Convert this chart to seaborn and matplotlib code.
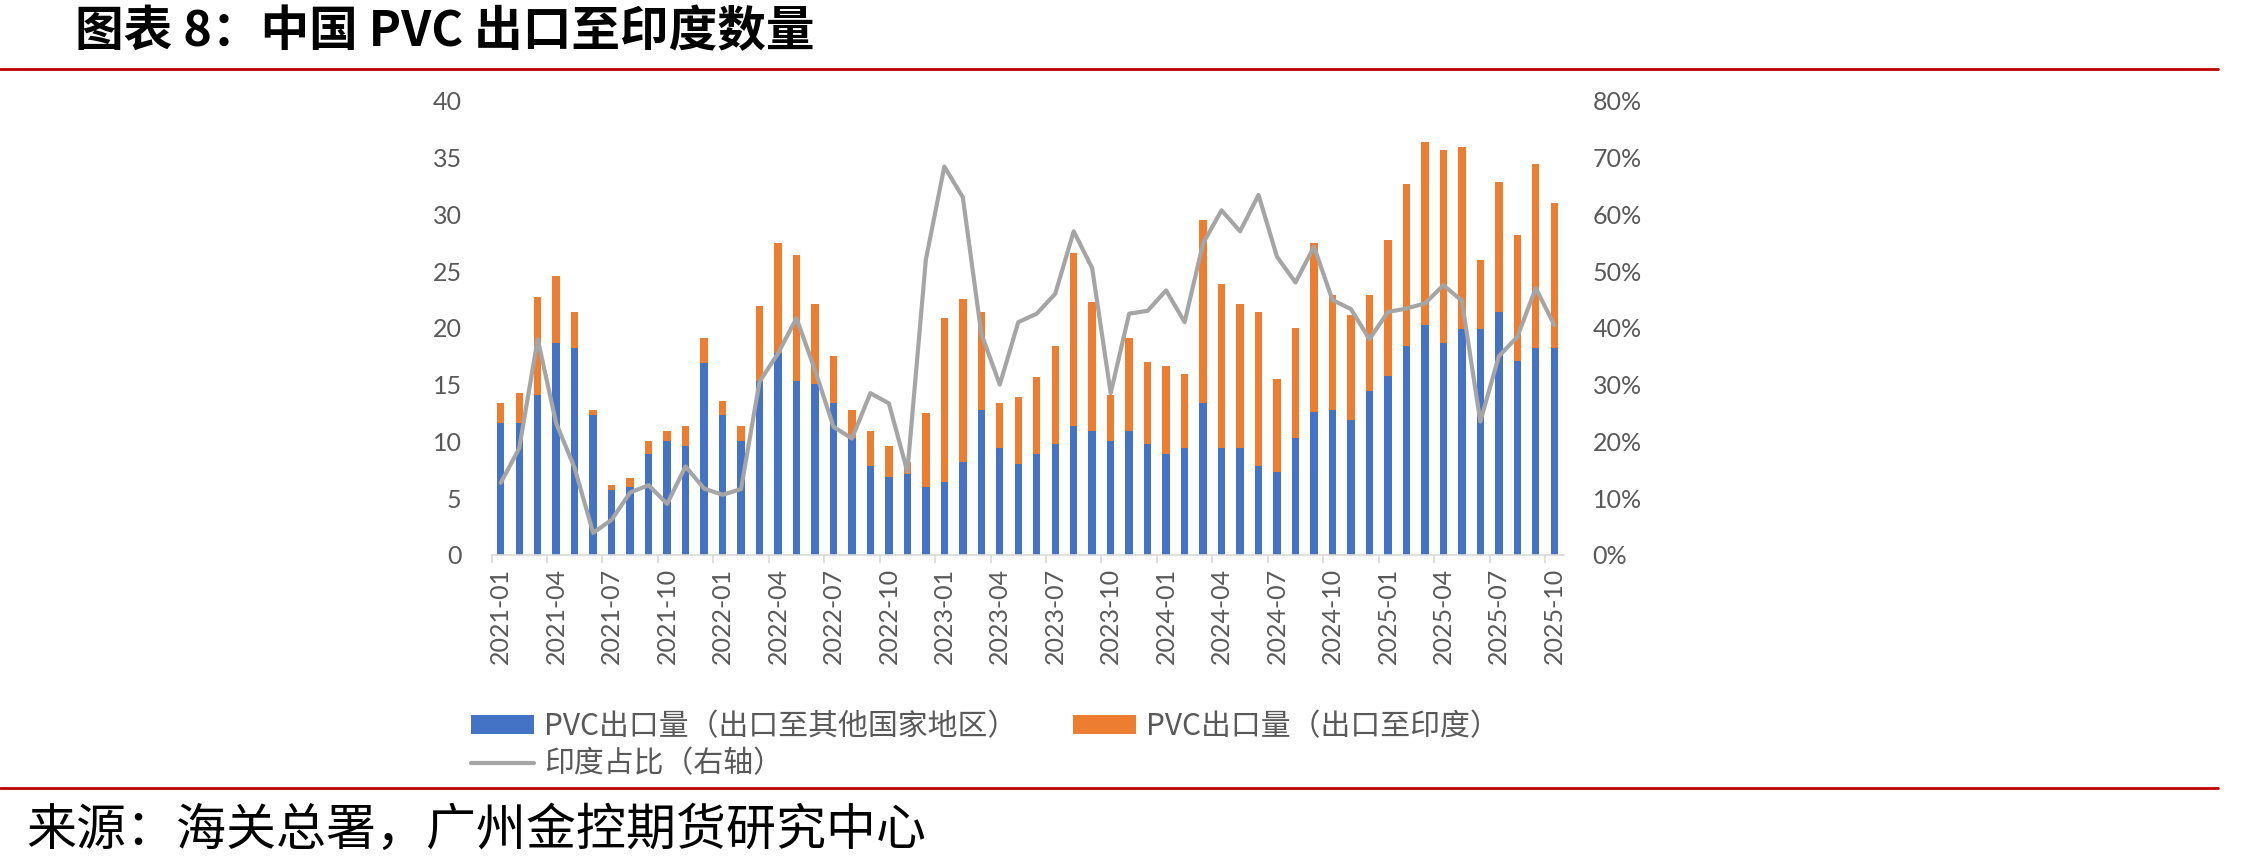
import numpy as np
import pandas as pd
import matplotlib
matplotlib.use("Agg")
import matplotlib.pyplot as plt
from matplotlib.patches import Patch
from matplotlib.lines import Line2D
from matplotlib.ticker import FuncFormatter
import seaborn as sns

# ---------------- data ----------------
months = [f"{y}-{m:02d}" for y in range(2021, 2026) for m in range(1, 13)][:58]

# PVC exports to other countries/regions (blue, 万吨)
other_exports = [
    11.65, 11.65, 14.1, 18.7, 18.25, 12.3, 5.7, 5.95, 8.9, 10.0, 9.6, 16.9,
    12.3, 10.0, 15.3, 17.75, 15.3, 15.05, 13.4, 10.3, 7.8, 6.9, 7.1, 6.0,
    6.4, 8.2, 12.8, 9.4, 8.0, 8.9, 9.8, 11.4, 10.95, 10.0, 10.95, 9.8,
    8.9, 9.4, 13.4, 9.4, 9.4, 7.8, 7.3, 10.3, 12.6, 12.8, 11.9, 14.4,
    15.8, 18.4, 20.25, 18.7, 19.9, 19.9, 21.4, 17.1, 18.2, 18.2,
]
# total PVC exports (top of stacked bar = other + India)
total_exports = [
    13.4, 14.3, 22.7, 24.6, 21.4, 12.8, 6.2, 6.8, 10.0, 10.9, 11.4, 19.1,
    13.6, 11.4, 21.9, 27.5, 26.4, 22.1, 17.5, 12.8, 10.95, 9.6, 8.2, 12.5,
    20.9, 22.5, 21.4, 13.4, 13.9, 15.7, 18.4, 26.6, 22.3, 14.1, 19.1, 17.0,
    16.6, 15.9, 29.5, 23.9, 22.1, 21.4, 15.5, 20.0, 27.5, 22.9, 21.1, 22.9,
    27.7, 32.7, 36.4, 35.7, 35.9, 26.0, 32.8, 28.2, 34.4, 31.0,
]
# India share (%) right axis
india_share = [
    12.7, 18.8, 38.0, 23.2, 15.3, 3.9, 6.2, 11.0, 12.3, 9.0, 15.6, 11.7,
    10.6, 11.6, 30.5, 35.5, 41.7, 32.6, 22.6, 20.5, 28.5, 26.7, 14.7, 52.0,
    68.4, 63.0, 39.0, 30.0, 41.0, 42.5, 46.0, 57.0, 50.5, 28.5, 42.5, 43.0,
    46.6, 41.0, 54.9, 60.7, 57.0, 63.4, 52.5, 48.0, 54.3, 44.9, 43.3, 38.0,
    42.8, 43.4, 44.3, 47.5, 44.8, 23.5, 35.0, 38.4, 47.0, 40.5,
]

label_other = "PVC出口量（出口至其他国家地区）"
label_india = "PVC出口量（出口至印度）"
label_share = "印度占比（右轴）"
title_text = "图表 8：中国 PVC 出口至印度数量"
source_text = "来源：海关总署，广州金控期货研究中心"

left_ticks = [0, 5, 10, 15, 20, 25, 30, 35, 40]
right_ticks = [0, 10, 20, 30, 40, 50, 60, 70, 80]

# ---------------- style ----------------
BLUE = "#4472C4"
ORANGE = "#ED7D31"
GREY = "#A5A5A5"
TXT = "#595959"
RED = "#C00000"

sns.set_theme(style="white")
plt.rcParams["font.family"] = ["Lato", "Noto Sans CJK SC", "DejaVu Sans"]

df = pd.DataFrame({
    "month": months,
    "other": other_exports,
    "total": total_exports,
    "share": india_share,
})
df["pos"] = np.arange(len(df))
n = len(df)

W, H = 2255, 867
fig = plt.figure(figsize=(W / 100, H / 100), dpi=100)
x0, x1 = 491.5, 1563.5
y0, y1 = 555.0, 100.7
ax = fig.add_axes([x0 / W, 1 - y0 / H, (x1 - x0) / W, (y0 - y1) / H])

sns.barplot(data=df, x="month", y="total", color=ORANGE, saturation=1,
            width=0.4, errorbar=None, ax=ax, linewidth=0)
sns.barplot(data=df, x="month", y="other", color=BLUE, saturation=1,
            width=0.4, errorbar=None, ax=ax, linewidth=0)

ax.set_xlim(-0.5, n - 0.5)
ax.set_ylim(0, 40)
ax.set_yticks(left_ticks)
ax.set_xlabel("")
ax.set_ylabel("")
ax.set_xticks(np.arange(0, n, 3))
ax.set_xticklabels(months[::3], rotation=90)
ax.set_xticks(np.arange(-0.5, n - 1, 3), minor=True)
ax.tick_params(axis="x", which="major", length=0, pad=9.5,
               labelsize=18, labelcolor=TXT)
ax.tick_params(axis="x", which="minor", bottom=True, length=6,
               width=1.2, color="#D9D9D9")
ax.tick_params(axis="y", length=0, pad=21.5, labelsize=18, labelcolor=TXT)
for s in ["top", "right", "left"]:
    ax.spines[s].set_visible(False)
ax.spines["bottom"].set_color("#D9D9D9")
ax.spines["bottom"].set_linewidth(1.2)
ax.grid(False)

ax2 = ax.twinx()
sns.lineplot(data=df, x="pos", y="share", color=GREY, linewidth=3,
             ax=ax2, legend=False)
ax2.set_ylim(0, 80)
ax2.set_yticks(right_ticks)
ax2.yaxis.set_major_formatter(FuncFormatter(lambda v, p: f"{v:.0f}%"))
ax2.set_xlim(-0.5, n - 0.5)
ax2.set_ylabel("")
ax2.set_xlabel("")
ax2.tick_params(axis="y", length=0, pad=21, labelsize=18, labelcolor=TXT)
for s in ["top", "right", "left", "bottom"]:
    ax2.spines[s].set_visible(False)
ax2.grid(False)

# ---------------- legend ----------------
cjk = ["Noto Sans CJK SC", "DejaVu Sans"]
fs = 21.5
h_blue = Patch(facecolor=BLUE, edgecolor="none")
h_orange = Patch(facecolor=ORANGE, edgecolor="none")
h_grey = Line2D([], [], color=GREY, linewidth=3)
common = dict(loc="upper left", frameon=False, handlelength=2.1,
              handleheight=0.56, handletextpad=0.34, labelspacing=0.22,
              borderpad=0, borderaxespad=0, labelcolor=TXT,
              prop={"family": cjk, "size": fs})
fig.legend([h_blue, h_grey], [label_other, label_share],
           bbox_to_anchor=(471 / W, 1 - 711 / H), **common)
fig.legend([h_orange], [label_india],
           bbox_to_anchor=(1073 / W, 1 - 711 / H), **common)

# ---------------- title, source, rules ----------------
fig.text(75 / W, 1 - 32 / H, title_text, fontsize=35, fontweight="bold",
         family=cjk, color="black", ha="left", va="center")
fig.text(26 / W, 1 - 831 / H, source_text, fontsize=36,
         family=cjk, color="black", ha="left", va="center")
for yy in (69, 788):
    fig.add_artist(Line2D([0, 2218 / W], [1 - yy / H, 1 - yy / H],
                          color=RED, linewidth=2))

fig.savefig("out.png", dpi=100)
